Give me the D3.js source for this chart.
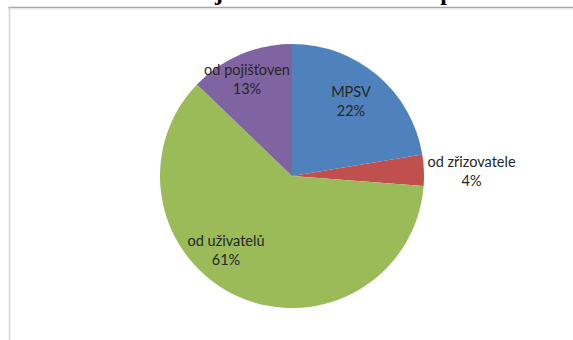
<!DOCTYPE html>
<html><head><meta charset="utf-8">
<script src="https://cdn.jsdelivr.net/npm/d3@7"></script>
<style>html,body{margin:0;padding:0;background:#fff;overflow:hidden}</style>
</head><body>
<svg id="c" width="573" height="340"></svg>
<script>
const categories = ["MPSV", "od zřizovatele", "od uživatelů", "od pojišťoven"];
const values = [22.4, 3.8, 61.0, 12.8];
const colors = ["#4F81BD", "#C0504D", "#9BBB59", "#8064A2"];
// label anchor (first-line baseline) offsets from pie centre
const labelOffsets = [[59, -79], [179.5, -9], [-66, 70], [-45, -101]];
const titleGlyphs = [{t: "j", x: 219}, {t: "p", x: 447}];

const svg = d3.select("#c");
const cx = 292, cy = 176, r = 132;

// chart area frame (top & left edges visible)
svg.append("line").attr("x1", 8).attr("x2", 573).attr("y1", 7.5).attr("y2", 7.5)
  .attr("stroke", "#a8a8a8").attr("stroke-width", 1.5);
svg.append("line").attr("x1", 8).attr("x2", 573).attr("y1", 9).attr("y2", 9)
  .attr("stroke", "#e4e4e4").attr("stroke-width", 1);
svg.append("line").attr("x1", 9.5).attr("x2", 9.5).attr("y1", 7).attr("y2", 340)
  .attr("stroke", "#d4d4d4").attr("stroke-width", 1.5);

// cropped title (only descenders visible)
svg.selectAll("text.title").data(titleGlyphs).join("text")
  .attr("class", "title")
  .attr("x", d => d.x).attr("y", 0)
  .attr("text-anchor", "middle")
  .attr("font-family", "Liberation Serif, Times New Roman, serif")
  .attr("font-weight", "bold").attr("font-size", 24).attr("fill", "#000")
  .text(d => d.t);

const pie = d3.pie().sort(null).startAngle(0).endAngle(2 * Math.PI);
const arcs = pie(values);
const arc = d3.arc().innerRadius(0).outerRadius(r);

const g = svg.append("g").attr("transform", `translate(${cx},${cy})`);
g.selectAll("path").data(arcs).join("path")
  .attr("d", arc)
  .attr("fill", (d, i) => colors[i]);

const fmt = v => Math.round(v) + "%";
const lab = g.selectAll("text.lab").data(arcs).join("text")
  .attr("class", "lab")
  .attr("text-anchor", "middle")
  .attr("font-family", "Lato, 'Open Sans', sans-serif")
  .attr("font-size", 14.5)
  .attr("fill", "#262626");
lab.append("tspan")
  .attr("x", (d, i) => labelOffsets[i][0]).attr("y", (d, i) => labelOffsets[i][1])
  .text((d, i) => categories[i]);
lab.append("tspan")
  .attr("x", (d, i) => labelOffsets[i][0]).attr("y", (d, i) => labelOffsets[i][1] + 18.5)
  .text(d => fmt(d.data));
</script>
</body></html>
